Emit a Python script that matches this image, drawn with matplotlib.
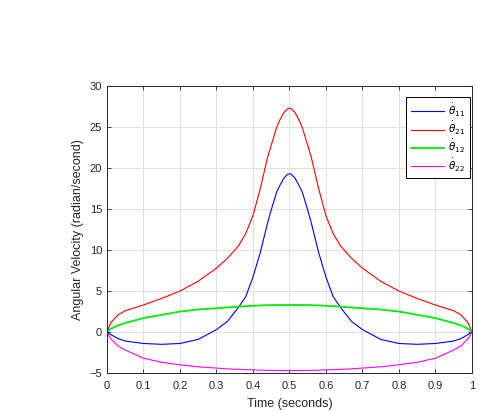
import numpy as np
import matplotlib.pyplot as plt

plt.rcParams['font.family'] = ['Liberation Sans', 'DejaVu Sans']
plt.rcParams['mathtext.fontset'] = 'dejavusans'

# time samples (seconds)
t = [0, 0.01, 0.03, 0.05, 0.1, 0.15, 0.2, 0.25, 0.3, 0.33, 0.36, 0.38, 0.4, 0.42, 0.44, 0.45, 0.465, 0.475, 0.485, 0.495,
     0.5, 0.505, 0.515, 0.525, 0.535, 0.55, 0.56, 0.58, 0.6, 0.62, 0.64, 0.67, 0.7, 0.75, 0.8, 0.85, 0.9, 0.95, 0.97, 0.99, 1.0]

# angular velocities
th11 = [0, -0.3, -0.8, -1.1, -1.4, -1.5, -1.4, -0.9, 0.3, 1.3, 3.0, 4.3, 6.7, 9.7, 13.3, 14.9, 17.1, 18.0, 18.8, 19.25,
        19.3, 19.25, 18.8, 18.0, 17.1, 14.9, 13.3, 9.7, 6.7, 4.3, 3.0, 1.3, 0.3, -0.9, -1.4, -1.5, -1.4, -1.1, -0.8, -0.3, 0]
th21 = [0, 1.1, 2.1, 2.6, 3.3, 4.1, 5.0, 6.2, 7.8, 9.0, 10.5, 12.0, 14.2, 17.5, 21.3, 22.8, 25.0, 26.0, 26.8, 27.25,
        27.3, 27.25, 26.8, 26.0, 25.0, 22.8, 21.3, 17.5, 14.2, 12.0, 10.5, 9.0, 7.8, 6.2, 5.0, 4.1, 3.3, 2.6, 2.1, 1.1, 0]
th12 = [0, 0.4, 0.8, 1.1, 1.7, 2.1, 2.5, 2.75, 2.9, 3.0, 3.1, 3.15, 3.2, 3.25, 3.28, 3.29, 3.3, 3.3, 3.3, 3.3,
        3.3, 3.3, 3.3, 3.3, 3.3, 3.29, 3.28, 3.25, 3.2, 3.15, 3.1, 3.0, 2.9, 2.75, 2.5, 2.1, 1.7, 1.1, 0.8, 0.4, 0]
th22 = [0, -0.8, -1.7, -2.2, -3.2, -3.7, -4.0, -4.25, -4.4, -4.5, -4.55, -4.6, -4.62, -4.65, -4.68, -4.69, -4.7, -4.7, -4.7, -4.7,
        -4.7, -4.7, -4.7, -4.7, -4.7, -4.69, -4.68, -4.65, -4.62, -4.6, -4.55, -4.5, -4.4, -4.25, -4.0, -3.7, -3.2, -2.2, -1.7, -0.8, 0]

fig = plt.figure(figsize=(4.82, 4.12), dpi=100)
ax = fig.add_axes([0.222, 0.0947, 0.757, 0.696])

ax.plot(t, th11, color='#0000ff', lw=0.8, label=r'$\dot{\theta}_{11}$')
ax.plot(t, th21, color='#ff0000', lw=0.8, label=r'$\dot{\theta}_{21}$')
ax.plot(t, th12, color='#00ee00', lw=1.3, label=r'$\dot{\theta}_{12}$')
ax.plot(t, th22, color='#ff00ff', lw=0.8, label=r'$\dot{\theta}_{22}$')

ax.set_xlim(0, 1)
ax.set_ylim(-5, 30)
ax.set_xticks(np.arange(0, 1.01, 0.1))
ax.set_xticklabels(['0', '0.1', '0.2', '0.3', '0.4', '0.5', '0.6', '0.7', '0.8', '0.9', '1'])
ax.set_yticks(np.arange(-5, 31, 5))
ax.grid(True, color='#e0e0e0', lw=0.7)
ax.tick_params(direction='in', top=True, right=True, labelsize=8, length=3, width=0.6, colors='#262626')
ax.tick_params(axis='x', pad=6)
for s in ax.spines.values():
    s.set_linewidth(0.7)
    s.set_color('#262626')

ax.set_xlabel('Time (seconds)', fontsize=9, color='#262626', labelpad=5)
ax.set_ylabel('Angular Velocity (radian/second)', fontsize=9, color='#262626')

leg = ax.legend(loc='upper right', bbox_to_anchor=(0.9945, 0.962), borderaxespad=0, fontsize=7.5, fancybox=False,
                framealpha=1, edgecolor='black', handlelength=3.2, labelspacing=0.12, borderpad=0.45,
                handletextpad=0.4)
leg.get_frame().set_linewidth(0.7)

fig.savefig('out.png', dpi=100)
